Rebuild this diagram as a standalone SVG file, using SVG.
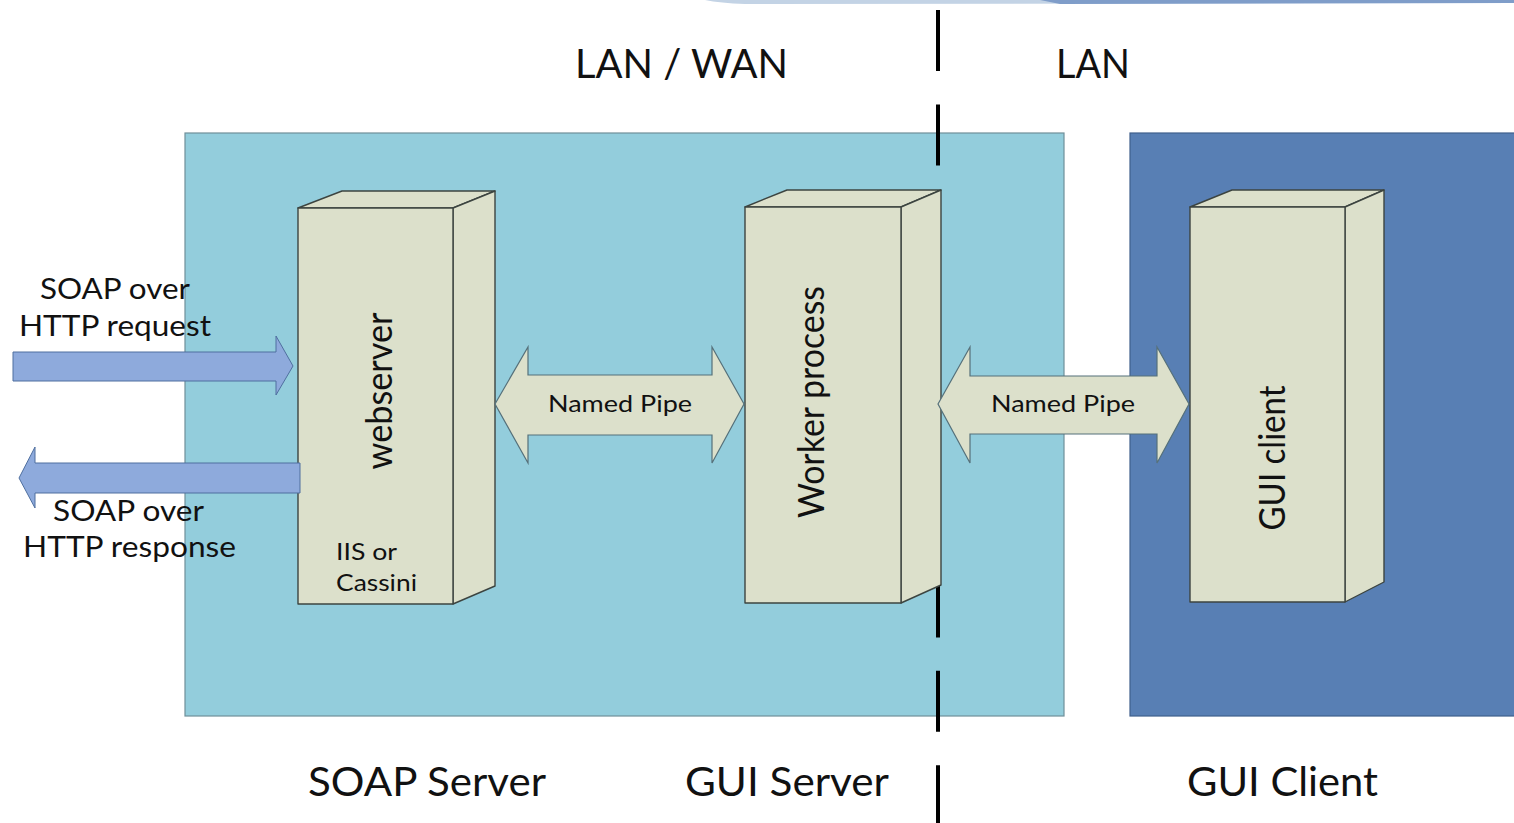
<svg xmlns="http://www.w3.org/2000/svg" width="1514" height="823" viewBox="0 0 1514 823">
<style>
.t{font-family:Lato,"Open Sans","Liberation Sans",sans-serif;fill:#111}
.box{fill:#DCE0CB;stroke:#3c4440;stroke-width:1.4;stroke-linejoin:round}
.pipe{fill:#DCE0CB;stroke:#55707a;stroke-width:1.2;stroke-linejoin:miter}
.http{fill:#8EAADC;stroke:#4f6f9f;stroke-width:1}
.div{stroke:#000;stroke-width:4;stroke-dasharray:61 33.4;fill:none}
</style>
<rect width="1514" height="823" fill="#fff"/>
<!-- top strip -->
<path d="M705,0 L1514,0 L1514,3 L745,4 Q720,3 705,0 Z" fill="#c3d3e5"/>
<path d="M1040,0 L1514,0 L1514,3 L1060,4 Z" fill="#7f9dc9"/>
<!-- zones -->
<g id="zone-server">
<rect x="185" y="133" width="879" height="583" fill="#93CDDC" stroke="#6f8f99" stroke-width="1.2"/>
</g>
<g id="zone-client">
<rect x="1130" y="133" width="390" height="583" fill="#587FB4" stroke="#3f5f8c" stroke-width="1.2"/>
</g>
<!-- dashed divider -->
<line class="div" x1="938" y1="10" x2="938" y2="823"/>
<!-- webserver -->
<g id="webserver">
<path class="box" d="M298,208 L342,191 L495,191 L453,208 Z"/>
<path class="box" d="M453,208 L495,191 L495,586 L453,604 Z"/>
<rect class="box" x="298" y="208" width="155" height="396"/>
<text class="t" transform="translate(392,391) rotate(-90)" text-anchor="middle" font-size="36" textLength="157" lengthAdjust="spacingAndGlyphs">webserver</text>
<text class="t" x="336" y="560" font-size="23" textLength="61" lengthAdjust="spacingAndGlyphs">IIS or</text>
<text class="t" x="336" y="591" font-size="23" textLength="81" lengthAdjust="spacingAndGlyphs">Cassini</text>
</g>
<!-- worker process -->
<g id="worker">
<path class="box" d="M745,207 L787,190 L941,190 L901,207 Z"/>
<path class="box" d="M901,207 L941,190 L941,585 L901,603 Z"/>
<rect class="box" x="745" y="207" width="156" height="396"/>
<text class="t" transform="translate(824,402) rotate(-90)" text-anchor="middle" font-size="37" textLength="232" lengthAdjust="spacingAndGlyphs">Worker process</text>
</g>
<!-- GUI client -->
<g id="guiclient">
<path class="box" d="M1190,207 L1232,190 L1384,190 L1345,207 Z"/>
<path class="box" d="M1345,207 L1384,190 L1384,582 L1345,602 Z"/>
<rect class="box" x="1190" y="207" width="155" height="395"/>
<text class="t" transform="translate(1285,458) rotate(-90)" text-anchor="middle" font-size="37" textLength="145" lengthAdjust="spacingAndGlyphs">GUI client</text>
</g>
<!-- connectors -->
<g id="connectors">
<g id="pipe1">
<path class="pipe" d="M495,404 L528,347 L528,375 L712,375 L712,347 L744,404 L712,463 L712,435 L528,435 L528,463 Z"/>
<text class="t" x="620" y="412" text-anchor="middle" font-size="23" textLength="144" lengthAdjust="spacingAndGlyphs">Named Pipe</text>
</g>
<g id="pipe2">
<path class="pipe" d="M938,404 L970,347 L970,376 L1157,376 L1157,347 L1189,404 L1157,463 L1157,434 L970,434 L970,463 Z"/>
<text class="t" x="1063" y="412" text-anchor="middle" font-size="23" textLength="144" lengthAdjust="spacingAndGlyphs">Named Pipe</text>
</g>
<g id="request">
<path class="http" d="M13,352 L276,352 L276,336 L293,366 L276,395 L276,381 L13,381 Z"/>
<text class="t" x="40" y="299" font-size="28" textLength="150" lengthAdjust="spacingAndGlyphs">SOAP over</text>
<text class="t" x="19" y="336" font-size="28" textLength="192" lengthAdjust="spacingAndGlyphs">HTTP request</text>
</g>
<g id="response">
<path class="http" d="M300,463 L35,463 L35,447 L19,478 L35,508 L35,493 L300,493 Z"/>
<text class="t" x="53" y="521" font-size="28" textLength="151" lengthAdjust="spacingAndGlyphs">SOAP over</text>
<text class="t" x="23" y="557" font-size="28" textLength="213" lengthAdjust="spacingAndGlyphs">HTTP response</text>
</g>
</g>
<!-- zone labels -->
<g id="labels">
<text class="t" x="575" y="78" font-size="40" textLength="213" lengthAdjust="spacingAndGlyphs">LAN / WAN</text>
<text class="t" x="1056" y="78" font-size="40" textLength="74" lengthAdjust="spacingAndGlyphs">LAN</text>
<text class="t" x="308" y="796" font-size="40" textLength="238" lengthAdjust="spacingAndGlyphs">SOAP Server</text>
<text class="t" x="685" y="796" font-size="40" textLength="204" lengthAdjust="spacingAndGlyphs">GUI Server</text>
<text class="t" x="1187" y="796" font-size="40" textLength="191" lengthAdjust="spacingAndGlyphs">GUI Client</text>
</g>
</svg>
